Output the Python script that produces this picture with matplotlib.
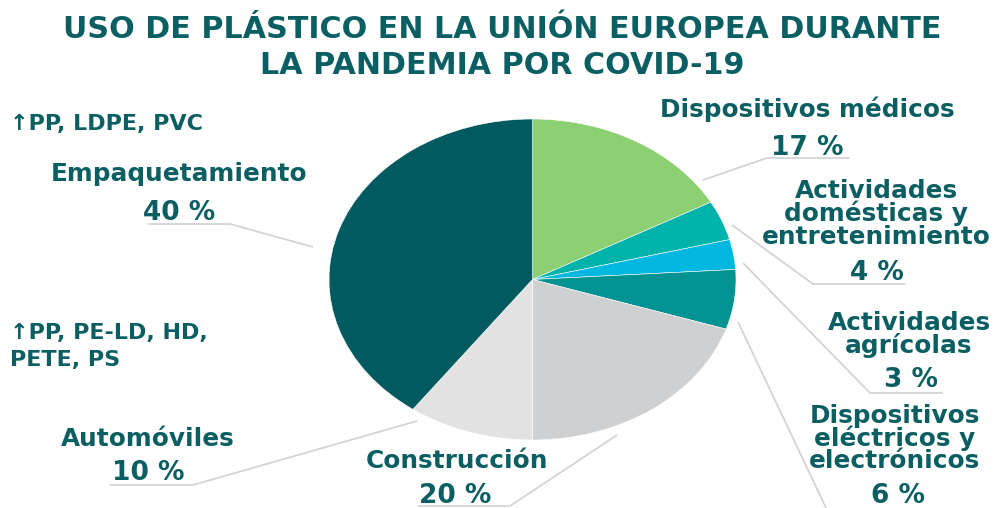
import matplotlib
matplotlib.use("Agg")
import matplotlib.pyplot as plt

# Plastic use by sector, clockwise from 12 o'clock
sectors = ["Dispositivos médicos", "Actividades domésticas y entretenimiento",
           "Actividades agrícolas", "Dispositivos eléctricos y electrónicos",
           "Construcción", "Automóviles", "Empaquetamiento"]
shares = [17, 4, 3, 6, 20, 10, 40]
colors = ["#8dcf73", "#00b3aa", "#00b7df", "#009391", "#cfd0d2", "#e2e2e2", "#005a60"]

label_lines = [
    ["Dispositivos médicos"],
    ["Actividades", "domésticas y", "entretenimiento"],
    ["Actividades", "agrícolas"],
    ["Dispositivos", "eléctricos y", "electrónicos"],
    ["Construcción"],
    ["Automóviles"],
    ["Empaquetamiento"],
]
polymer_notes = [["↑PP, LDPE, PVC"], ["↑PP, PE-LD, HD,", "PETE, PS"]]
title_lines = ["USO DE PLÁSTICO EN LA UNIÓN EUROPEA DURANTE",
               "LA PANDEMIA POR COVID-19"]

W, H = 1001, 508
TXT = "#0b5f63"
LINE = "#d2d4d5"
FAM = ["DejaVu Sans"]

fig = plt.figure(figsize=(W / 100, H / 100), dpi=100)
fig.patch.set_facecolor("white")

# pie in its own axes so it fills an elliptical box
pie_box = (329, 119, 736, 440)  # left, top, right, bottom in pixels
axp = fig.add_axes([pie_box[0] / W, 1 - pie_box[3] / H,
                    (pie_box[2] - pie_box[0]) / W, (pie_box[3] - pie_box[1]) / H])
axp.pie(shares, colors=colors, startangle=90, counterclock=False, radius=1,
        wedgeprops=dict(linewidth=0.4, edgecolor="white"))
axp.set_aspect("auto")
axp.set_xlim(-1, 1)
axp.set_ylim(-1, 1)
axp.axis("off")

# overlay axes in pixel coordinates for labels and leader lines
ax = fig.add_axes([0, 0, 1, 1], zorder=2)
ax.set_xlim(0, W)
ax.set_ylim(H, 0)
ax.axis("off")
ax.patch.set_alpha(0)

for y, ln in zip([27, 63], title_lines):
    ax.text(502, y, ln, ha="center", va="center_baseline", color=TXT,
            fontsize=21.7, fontweight="bold", family=FAM)

leaders = [
    [(703, 180), (767, 158), (850, 158)],
    [(732, 225), (813, 284), (905, 284)],
    [(743, 263), (870, 393), (943, 393)],
    [(738, 322), (827, 510)],
    [(617, 435), (510, 506), (418, 506)],
    [(417, 421), (193, 485), (110, 485)],
    [(313, 247), (230, 224), (148, 224)],
]
for pts in leaders:
    xs, ys = zip(*pts)
    ax.plot(xs, ys, color=LINE, lw=1.3, solid_capstyle="butt")

# (name centre x, first line y, line step, percent x, percent y)
label_pos = [
    (807, 107, 24, 807, 145),
    (876, 188, 23, 877, 270),
    (909, 320, 23, 911, 377),
    (895, 413, 23, 898, 493),
    (457, 458, 24, 455, 493),
    (148, 437, 24, 148, 470),
    (179, 172, 24, 179, 210),
]
for lines, share, (cx, y0, dy, px, py) in zip(label_lines, shares, label_pos):
    for i, ln in enumerate(lines):
        ax.text(cx, y0 + i * dy, ln, ha="center", va="center_baseline", color=TXT,
                fontsize=17.8, fontweight="bold", family=FAM)
    ax.text(px, py, f"{share} %", ha="center", va="center_baseline", color=TXT,
            fontsize=19, fontweight="bold", family=FAM)

for (x0, y0), lines in zip([(10, 122), (10, 331)], polymer_notes):
    for i, ln in enumerate(lines):
        ax.text(x0, y0 + i * 27, ln, ha="left", va="center_baseline", color=TXT,
                fontsize=16, fontweight="bold", family=FAM)

fig.savefig("out.png", dpi=100, facecolor="white")
